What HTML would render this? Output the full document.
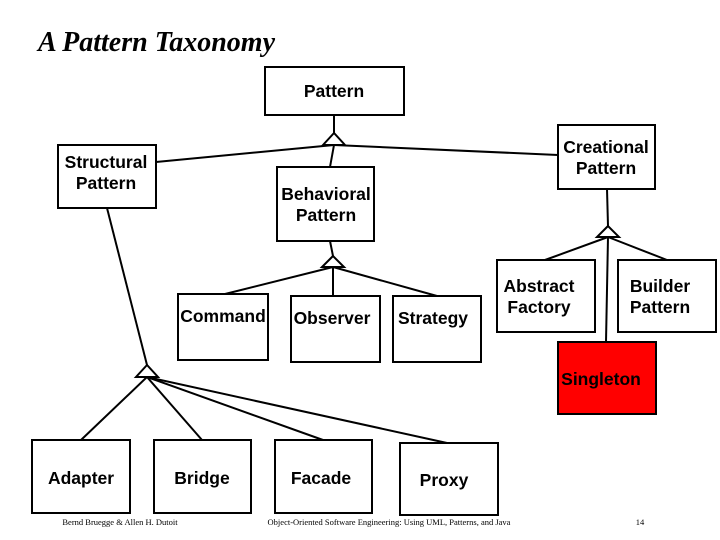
<!DOCTYPE html>
<html><head><meta charset="utf-8"><style>
html,body{margin:0;padding:0;background:#fff;}
svg{display:block;}
.l{font-family:"Liberation Sans",Arial,sans-serif;font-size:17.5px;font-weight:bold;fill:#000;text-anchor:middle;}
.f{font-family:"Liberation Serif",serif;font-size:8.5px;fill:#000;text-anchor:middle;}
</style></head><body>
<svg width="720" height="540" viewBox="0 0 720 540" xmlns="http://www.w3.org/2000/svg">
<text x="38" y="51" style="font-family:'Liberation Serif',serif;font-style:italic;font-weight:bold;font-size:28px">A Pattern Taxonomy</text>
<g fill="none" stroke="#000" stroke-width="2">
<line x1="334" y1="115" x2="334" y2="133"/>
<line x1="334" y1="145" x2="156" y2="162"/>
<line x1="334" y1="145" x2="558" y2="155"/>
<line x1="334" y1="145" x2="330" y2="167"/>
<line x1="330" y1="241" x2="333" y2="256"/>
<line x1="333" y1="267" x2="225" y2="294"/>
<line x1="333" y1="267" x2="333" y2="296"/>
<line x1="333" y1="267" x2="437" y2="296"/>
<line x1="607" y1="189" x2="608" y2="226"/>
<line x1="608" y1="237" x2="545" y2="260"/>
<line x1="608" y1="237" x2="667" y2="260"/>
<line x1="608" y1="237" x2="606" y2="342"/>
<line x1="107" y1="208" x2="147" y2="365"/>
<line x1="147" y1="377" x2="81" y2="440"/>
<line x1="147" y1="377" x2="202" y2="440"/>
<line x1="147" y1="377" x2="323" y2="440"/>
<line x1="147" y1="377" x2="447" y2="443"/>
<polygon points="334,133 323,145 345,145" fill="#fff"/>
<polygon points="333,256 322,267 344,267" fill="#fff"/>
<polygon points="608,226 597,237 619,237" fill="#fff"/>
<polygon points="147,365 136,377 158,377" fill="#fff"/>
<rect x="265" y="67" width="139" height="48" fill="#fff"/>
<rect x="58" y="145" width="98" height="63" fill="#fff"/>
<rect x="277" y="167" width="97" height="74" fill="#fff"/>
<rect x="558" y="125" width="97" height="64" fill="#fff"/>
<rect x="178" y="294" width="90" height="66" fill="#fff"/>
<rect x="291" y="296" width="89" height="66" fill="#fff"/>
<rect x="393" y="296" width="88" height="66" fill="#fff"/>
<rect x="497" y="260" width="98" height="72" fill="#fff"/>
<rect x="618" y="260" width="98" height="72" fill="#fff"/>
<rect x="558" y="342" width="98" height="72" fill="#f00"/>
<rect x="32" y="440" width="98" height="73" fill="#fff"/>
<rect x="154" y="440" width="97" height="73" fill="#fff"/>
<rect x="275" y="440" width="97" height="73" fill="#fff"/>
<rect x="400" y="443" width="98" height="72" fill="#fff"/>
</g>
<text class="l" x="334" y="97">Pattern</text>
<text class="l" x="106" y="168">Structural</text><text class="l" x="106" y="189">Pattern</text>
<text class="l" x="326" y="200">Behavioral</text><text class="l" x="326" y="221">Pattern</text>
<text class="l" x="606" y="153">Creational</text><text class="l" x="606" y="174">Pattern</text>
<text class="l" x="223" y="322">Command</text>
<text class="l" x="332" y="324">Observer</text>
<text class="l" x="433" y="324">Strategy</text>
<text class="l" x="539" y="292">Abstract</text><text class="l" x="539" y="313">Factory</text>
<text class="l" x="660" y="292">Builder</text><text class="l" x="660" y="313">Pattern</text>
<text class="l" x="601" y="385">Singleton</text>
<text class="l" x="81" y="484">Adapter</text>
<text class="l" x="202" y="484">Bridge</text>
<text class="l" x="321" y="484">Facade</text>
<text class="l" x="444" y="486">Proxy</text>
<text class="f" x="120" y="525">Bernd Bruegge &amp; Allen H. Dutoit</text>
<text class="f" x="389" y="525">Object-Oriented Software Engineering: Using UML, Patterns, and Java</text>
<text class="f" x="640" y="525">14</text>
</svg>
</body></html>
